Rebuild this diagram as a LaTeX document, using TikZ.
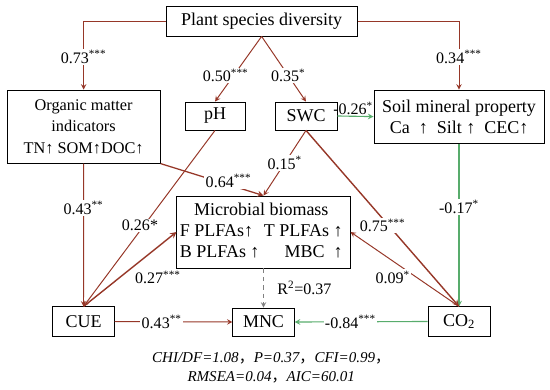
\documentclass[tikz,border=0pt]{standalone}
\usepackage{fontspec}
\setmainfont{Liberation Serif}
\newfontfamily\cjk{Noto Sans CJK SC}
\definecolor{pathred}{RGB}{150,55,40}
\definecolor{pathgreen}{RGB}{88,172,108}

\begin{document}
\begin{tikzpicture}[>=stealth, semithick,
    box/.style={draw, line width=0.6pt, align=center, inner sep=2pt,
        font=\fontsize{12.8}{15}\selectfont},
    lbl/.style={fill=white, inner sep=1pt, text=black, font=\fontsize{11.4}{13}\selectfont},
    redpath/.style={draw=pathred, line width=0.7pt},
    greenpath/.style={draw=pathgreen, line width=0.8pt}]

        \useasboundingbox (0,0) rectangle (13.75,9.725);

        % Nut Plant species diversity
        \node[box, minimum width=4.78cm, minimum height=0.73cm] (plant) at (6.54, 9.19) {Plant species diversity};

        % Nut Organic matter indicators
        \node[box, minimum width=3.83cm, minimum height=1.83cm,
            font=\fontsize{11.6}{15.2}\selectfont] (organic) at (2.09, 6.56) {
            Organic matter\\
            indicators\\
            TN↑ SOM↑DOC↑
        };

        % Nut pH va SWC
        \node[box, minimum width=1.5cm, minimum height=0.7cm] (ph) at (5.375, 6.825) {pH};
        \node[box, minimum width=1.55cm, minimum height=0.7cm] (swc) at (7.65, 6.825) {SWC};

        % Nut Soil mineral property
        \node[box, minimum width=4.25cm, minimum height=1.33cm] (soil) at (11.475, 6.81) {
            Soil mineral property\\
            Ca\ \ ↑\ \ Silt ↑\ \ CEC↑
        };

        % Nut Microbial biomass
        \node[box, minimum width=4.33cm, minimum height=1.8cm] (microbial) at (6.5875, 3.925) {
            \begin{tabular}{@{}l@{\ }r@{}}
            \multicolumn{2}{c}{Microbial biomass} \\
            F PLFAs↑ & T PLFAs ↑ \\
            B PLFAs ↑ & MBC\ \ ↑ \\
            \end{tabular}
        };

        % Nut CUE, MNC, CO2
        \node[box, minimum width=1.53cm, minimum height=0.73cm] (cue) at (2.0875, 1.6875) {CUE};
        \node[box, minimum width=1.53cm, minimum height=0.7cm] (mnc) at (6.5875, 1.675) {MNC};
        \node[box, minimum width=1.55cm, minimum height=0.73cm] (co2) at (11.475, 1.6875) {CO\textsubscript{2}};

        % Chi so do phu hop cua mo hinh
        \node[align=center, font=\fontsize{10.7}{13.5}\selectfont\itshape] (fit) at (6.78, 0.54) {
            CHI/DF=1.08{\cjk ，}P=0.37{\cjk ，}CFI=0.99{\cjk ，}\\
            RMSEA=0.04{\cjk ，}AIC=60.01
        };

        % ========================================================
        % DUONG NOI VA HE SO DUONG DAN
        % ========================================================

        % PLANT -> ORGANIC, PLANT -> SOIL (day gap khuc)
        \draw[->, redpath] (plant.west) -| node[lbl, pos=0.76] (l073) {0.73\textsuperscript{***}} (organic.north);
        \draw[->, redpath] (plant.east) -| node[lbl, pos=0.76] (l034) {0.34\textsuperscript{***}} (soil.north);

        % PLANT -> pH, PLANT -> SWC
        \draw[->, redpath] (plant.south) -- node[lbl, pos=0.6, xshift=-0.2cm] (l050) {0.50\textsuperscript{***}} (ph.north);
        \draw[->, redpath] (plant.south) -- node[lbl, pos=0.6] (l035) {0.35\textsuperscript{*}} (swc.north);

        % SWC -> SOIL, SOIL -> CO2
        \draw[->, greenpath] (swc.east) -- node[lbl, above, fill=none, inner sep=0.5pt, xshift=-0.06cm] (l026) {-0.26\textsuperscript{*}} (soil.west);
        \draw[->, greenpath] (soil.south) -- node[lbl, pos=0.39] (l017) {-0.17\textsuperscript{*}} (co2.north);

        % ORGANIC -> CUE, ORGANIC -> MICROBIAL
        \draw[->, redpath] (organic.south) -- node[lbl, pos=0.31] (l043a) {0.43\textsuperscript{**}} (cue.north);
        \draw[->, redpath, line width=0.9pt] (organic.south east) -- node[lbl, pos=0.66, yshift=0.1cm] (l064) {0.64\textsuperscript{***}} (microbial.north);

        % SWC -> MICROBIAL, SWC -> CO2
        \draw[->, redpath] (swc.south) -- node[lbl, pos=0.5] (l015) {0.15\textsuperscript{*}} (microbial.north);
        \draw[->, redpath, line width=1pt] (swc.south) -- node[lbl, pos=0.54, xshift=-0.15cm] (l075) {0.75\textsuperscript{***}} (co2.north);

        % pH -> CUE, CUE -> MICROBIAL
        \draw[->, redpath] (ph.south) -- node[lbl, pos=0.54, xshift=-0.1cm] (l026b) {0.26*} (cue.north);
        \draw[->, redpath, line width=1pt] (cue.north) -- node[lbl, pos=0.5, xshift=0.7cm, yshift=-0.2cm] (l027) {0.27\textsuperscript{***}} (microbial.west);

        % CO2 -> MICROBIAL
        \draw[->, redpath] (co2.north) -- node[lbl, pos=0.5, xshift=-0.3cm, yshift=-0.2cm] (l009) {0.09\textsuperscript{*}} (microbial.east);

        % CUE -> MNC, CO2 -> MNC
        \draw[->, redpath] (cue.east) -- node[lbl, pos=0.4] (l043b) {0.43\textsuperscript{**}} (mnc.west);
        \draw[->, greenpath] (co2.west) -- node[lbl, pos=0.58] (l084) {-0.84\textsuperscript{***}} (mnc.east);

        % MICROBIAL -> MNC (net dut)
        \draw[->, dashed, gray, line width=0.7pt] (microbial.south) -- node[lbl, right, fill=none, xshift=0.3cm] (lr2) {R\textsuperscript{2}=0.37} (mnc.north);

    \end{tikzpicture}
\end{document}
